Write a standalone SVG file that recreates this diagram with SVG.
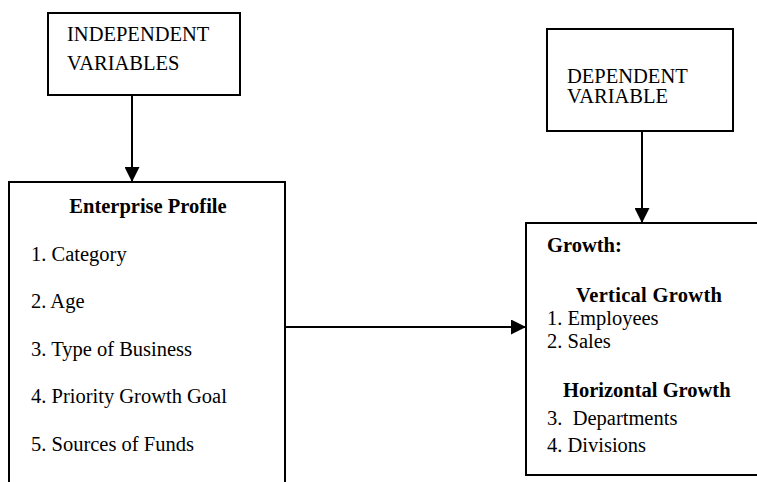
<svg xmlns="http://www.w3.org/2000/svg" width="757" height="482" viewBox="0 0 757 482">
  <style>
    .box { fill: #ffffff; stroke: #000000; stroke-width: 2; }
    .t { font-family: 'Liberation Serif', 'Times New Roman', serif; font-size: 20.5px; fill: #000000; }
    .b { font-weight: bold; }
    .link { stroke: #000000; stroke-width: 2; fill: none; marker-end: url(#arrow); }
  </style>
  <defs>
    <marker id="arrow" viewBox="0 0 15 15" refX="15" refY="7.5" markerWidth="15" markerHeight="15" markerUnits="userSpaceOnUse" orient="auto">
      <path d="M0,0 L15,7.5 L0,15 Z" fill="#000000"/>
    </marker>
  </defs>
  <rect width="757" height="482" fill="#ffffff"/>

  <g id="connectors">
    <line class="link" x1="132" y1="95" x2="132" y2="182"/>
    <line class="link" x1="642" y1="132" x2="642" y2="223"/>
    <line class="link" x1="285" y1="327" x2="526" y2="327"/>
  </g>

  <g id="independent">
    <rect class="box" x="48" y="13" width="192" height="82"/>
    <text class="t" x="67" y="41">INDEPENDENT</text>
    <text class="t" x="67" y="70">VARIABLES</text>
  </g>

  <g id="dependent">
    <rect class="box" x="547" y="29" width="186" height="102"/>
    <text class="t" x="567" y="83">DEPENDENT</text>
    <text class="t" x="567" y="103">VARIABLE</text>
  </g>

  <g id="enterprise-profile">
    <rect class="box" x="9" y="182" width="276" height="320"/>
    <text class="t b" x="148" y="213" text-anchor="middle">Enterprise Profile</text>
    <text class="t" x="31" y="261">1. Category</text>
    <text class="t" x="31" y="308">2. Age</text>
    <text class="t" x="31" y="356">3. Type of Business</text>
    <text class="t" x="31" y="403">4. Priority Growth Goal</text>
    <text class="t" x="31" y="451">5. Sources of Funds</text>
  </g>

  <g id="growth">
    <rect class="box" x="526" y="223" width="250" height="252"/>
    <text class="t b" x="547" y="252">Growth:</text>
    <text class="t b" x="576" y="302" textLength="146">Vertical Growth</text>
    <text class="t" x="547" y="325">1. Employees</text>
    <text class="t" x="547" y="348">2. Sales</text>
    <text class="t b" x="563" y="397">Horizontal Growth</text>
    <text class="t" x="547" y="425" xml:space="preserve">3.  Departments</text>
    <text class="t" x="547" y="452">4. Divisions</text>
  </g>
</svg>
